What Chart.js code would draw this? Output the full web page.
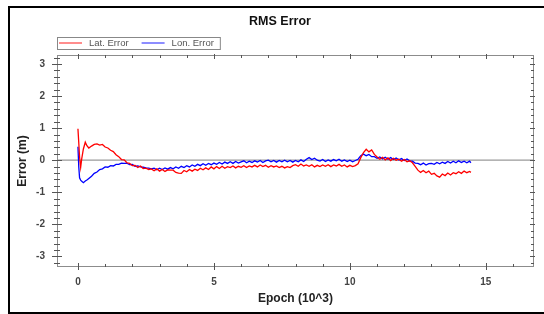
<!DOCTYPE html>
<html>
<head>
<meta charset="utf-8">
<script src="https://cdn.jsdelivr.net/npm/chart.js@4.4.0/dist/chart.umd.min.js"></script>
<style>
	html, body { margin: 0; padding: 0; background: #fff; }
	#wrap { position: relative; width: 544px; height: 314px; overflow: hidden; }
	#frame { position: absolute; left: 8px; top: 6px; width: 600px; height: 304px; border: 2px solid #000; border-right: none; pointer-events: none; }
	canvas { position: absolute; left: 0; top: 0; }
</style>
</head>
<body>
<div id="wrap">
	<canvas id="chart" width="544" height="314"></canvas>
	<div id="frame"></div>
</div>
<script>
// epoch in thousands
const epochs = [
	0, 0.03, 0.06, 0.1, 0.14, 0.2, 0.27, 0.33, 0.4,
	0.5, 0.6, 0.7, 0.8, 0.9, 1.0, 1.1, 1.2, 1.3, 1.4,
	1.5, 1.6, 1.7, 1.8, 1.9, 2.0, 2.1, 2.2, 2.3, 2.4,
	2.5, 2.6, 2.7, 2.8, 2.9, 3.0, 3.1, 3.2, 3.3, 3.4,
	3.5, 3.6, 3.7, 3.8, 3.9, 4.0, 4.1, 4.2, 4.3, 4.4,
	4.5, 4.6, 4.7, 4.8, 4.9, 5.0, 5.1, 5.2, 5.3, 5.4,
	5.5, 5.6, 5.7, 5.8, 5.9, 6.0, 6.1, 6.2, 6.3, 6.4,
	6.5, 6.6, 6.7, 6.8, 6.9, 7.0, 7.1, 7.2, 7.3, 7.4,
	7.5, 7.6, 7.7, 7.8, 7.9, 8.0, 8.1, 8.2, 8.3, 8.4,
	8.5, 8.6, 8.7, 8.8, 8.9, 9.0, 9.1, 9.2, 9.3, 9.4,
	9.5, 9.6, 9.7, 9.8, 9.9, 10.0, 10.1, 10.2, 10.3, 10.4,
	10.5, 10.6, 10.7, 10.8, 10.9, 11.0, 11.1, 11.2, 11.3, 11.4,
	11.5, 11.6, 11.7, 11.8, 11.9, 12.0, 12.1, 12.2, 12.3, 12.4,
	12.5, 12.6, 12.7, 12.8, 12.9, 13.0, 13.1, 13.2, 13.3, 13.4,
	13.5, 13.6, 13.7, 13.8, 13.9, 14.0, 14.1, 14.2, 14.3, 14.4,
	14.45
];

const latError = [
	0.98, 0.55, 0.10, -0.22, 0.05, 0.35, 0.56, 0.45, 0.38,
	0.44, 0.49, 0.51, 0.47, 0.49, 0.41, 0.38, 0.31, 0.27, 0.17,
	0.11, 0.02, 0.01, -0.08, -0.10, -0.17, -0.16, -0.23, -0.18, -0.26,
	-0.25, -0.29, -0.27, -0.33, -0.27, -0.34, -0.29, -0.35, -0.30, -0.31,
	-0.31, -0.38, -0.40, -0.41, -0.32, -0.36, -0.29, -0.34, -0.28, -0.32,
	-0.25, -0.30, -0.24, -0.29, -0.21, -0.27, -0.20, -0.26, -0.19, -0.25,
	-0.20, -0.23, -0.18, -0.24, -0.19, -0.22, -0.17, -0.23, -0.18, -0.21,
	-0.16, -0.21, -0.15, -0.20, -0.16, -0.22, -0.17, -0.21, -0.18, -0.23,
	-0.19, -0.24, -0.20, -0.23, -0.17, -0.14, -0.19, -0.12, -0.18, -0.15,
	-0.19, -0.14, -0.21, -0.16, -0.20, -0.15, -0.19, -0.14, -0.20, -0.15,
	-0.18, -0.13, -0.19, -0.15, -0.21, -0.16, -0.20, -0.17, -0.11, 0.08,
	0.24, 0.34, 0.26, 0.32, 0.18, 0.10, 0.03, 0.09, 0.01, 0.07,
	-0.01, 0.06, 0.00, 0.03, -0.03, 0.02, -0.05, -0.02, -0.08, -0.19,
	-0.31, -0.38, -0.32, -0.39, -0.34, -0.44, -0.41, -0.49, -0.53, -0.43,
	-0.48, -0.40, -0.46, -0.39, -0.42, -0.36, -0.41, -0.34, -0.39, -0.35,
	-0.38
];

const lonError = [
	0.42, -0.20, -0.55, -0.62, -0.66, -0.70, -0.65, -0.62, -0.57,
	-0.50, -0.41, -0.37, -0.29, -0.27, -0.21, -0.22, -0.17, -0.18, -0.13,
	-0.13, -0.09, -0.10, -0.09, -0.14, -0.13, -0.19, -0.18, -0.21, -0.22,
	-0.24, -0.25, -0.27, -0.25, -0.30, -0.25, -0.29, -0.24, -0.28, -0.23,
	-0.27, -0.21, -0.25, -0.19, -0.23, -0.17, -0.21, -0.15, -0.19, -0.13,
	-0.17, -0.11, -0.16, -0.10, -0.14, -0.09, -0.13, -0.07, -0.12, -0.06,
	-0.10, -0.05, -0.10, -0.04, -0.09, -0.05, -0.02, -0.08, -0.03, -0.07,
	-0.02, -0.06, -0.01, -0.07, -0.02, 0.00, -0.05, -0.01, -0.06, -0.01,
	-0.05, 0.00, -0.05, -0.01, -0.06, -0.01, -0.05, 0.01, -0.04, 0.03,
	0.08, 0.02, 0.06, 0.00, -0.03, 0.02, -0.04, 0.01, -0.03, 0.02,
	-0.02, 0.03, -0.03, 0.01, -0.04, 0.00, -0.05, -0.01, 0.03, 0.14,
	0.19, 0.14, 0.18, 0.11, 0.11, 0.06, 0.10, 0.04, 0.09, 0.03,
	0.08, 0.02, 0.07, 0.01, 0.05, -0.01, 0.04, -0.02, -0.03, -0.09,
	-0.10, -0.14, -0.09, -0.15, -0.11, -0.10, -0.13, -0.07, -0.11, -0.06,
	-0.10, -0.04, -0.09, -0.03, -0.08, -0.02, -0.07, -0.03, -0.08, -0.03,
	-0.08
];

const seriesNames = ['Lat. Error', 'Lon. Error'];
const seriesColors = ['#ff0000', '#0000ff'];
const xTicks = [0, 5, 10, 15];
const yTicks = [-3, -2, -1, 0, 1, 2, 3];
const chartTitle = 'RMS Error';

const FONT = '"Liberation Sans", Arial, sans-serif';

function toPoints(values)
{
	return values.map((v, i) => ({x: epochs[i], y: v}));
}

// title, boxed legend, zero line and the little tick marks round the plot
const frameBits = {
	id: 'frameBits',
	beforeDatasetsDraw(chart) {
		const {ctx, chartArea: a, scales: {y}} = chart;
		const py = y.getPixelForValue(0);
		ctx.save();
		ctx.strokeStyle = '#9a9a9a';
		ctx.lineWidth = 1.3;
		ctx.beginPath();
		ctx.moveTo(a.left, py);
		ctx.lineTo(a.right, py);
		ctx.stroke();
		ctx.restore();
	},
	afterDraw(chart) {
		const {ctx, chartArea: a, scales: {x, y}} = chart;
		ctx.save();

		ctx.strokeStyle = '#8c8c8c';
		ctx.lineWidth = 1;
		ctx.strokeRect(a.left + 0.5, a.top + 0.5, a.width - 1, a.height - 1);

		ctx.strokeStyle = '#555';
		ctx.beginPath();
		for (let v = Math.ceil(x.min); v <= x.max; v++)
		{
			const px = Math.round(x.getPixelForValue(v)) + 0.5;
			const major = v % 5 === 0;
			ctx.moveTo(px, a.bottom + (major ? 3 : 0));
			ctx.lineTo(px, a.bottom - (major ? 4 : 3));
			ctx.moveTo(px, a.top - (major ? 1 : 0));
			ctx.lineTo(px, a.top + (major ? 4 : 3));
		}
		for (let i = Math.ceil(y.min * 5); i <= y.max * 5; i++)
		{
			const py = Math.round(y.getPixelForValue(i / 5)) + 0.5;
			const major = i % 5 === 0;
			ctx.moveTo(a.left - (major ? 5 : 3), py);
			ctx.lineTo(a.left + (major ? 5 : 3), py);
			ctx.moveTo(a.right - (major ? 4 : 3), py);
			ctx.lineTo(a.right + (major ? 1 : 0), py);
		}
		ctx.stroke();

		// title
		ctx.fillStyle = '#111';
		ctx.font = 'bold 12.5px ' + FONT;
		ctx.textAlign = 'center';
		ctx.textBaseline = 'middle';
		ctx.fillText(chartTitle, 280, 21.5);

		// legend box
		ctx.font = '9.5px ' + FONT;
		ctx.textAlign = 'left';
		let cx = a.left + 2;
		const ly = 43;
		chart.data.datasets.forEach((ds, i) => {
			ctx.strokeStyle = seriesColors[i];
			ctx.globalAlpha = 0.75;
			ctx.lineWidth = 1.2;
			ctx.beginPath();
			ctx.moveTo(cx, ly);
			ctx.lineTo(cx + 23, ly);
			ctx.stroke();
			ctx.globalAlpha = 1;
			cx += 30;
			ctx.fillStyle = '#555';
			ctx.fillText(ds.label, cx, ly + 0.5);
			cx += ctx.measureText(ds.label).width + 13;
		});
		ctx.strokeStyle = '#888';
		ctx.lineWidth = 1;
		ctx.strokeRect(a.left + 0.5, 37.5, cx - 7 - a.left, 12);

		ctx.restore();
	}
};

new Chart(document.getElementById('chart'), {
	type: 'line',
	data: {
		datasets: [
			{
				label: seriesNames[0],
				data: toPoints(latError),
				borderColor: seriesColors[0],
				borderWidth: 1.3,
				pointRadius: 0,
				tension: 0
			},
			{
				label: seriesNames[1],
				data: toPoints(lonError),
				borderColor: seriesColors[1],
				borderWidth: 1.3,
				pointRadius: 0,
				tension: 0
			}
		]
	},
	options: {
		responsive: false,
		animation: false,
		layout: {
			padding: {top: 55, right: 10, left: 0, bottom: 0}
		},
		plugins: {
			legend: {display: false},
			title: {display: false},
			tooltip: {enabled: false}
		},
		scales: {
			x: {
				type: 'linear',
				min: -0.77,
				max: 16.77,
				afterBuildTicks: (scale) => {
					scale.ticks = xTicks.map(v => ({value: v}));
				},
				afterFit: (scale) => {
					scale.height = 47;
				},
				grid: {display: false, drawTicks: false},
				border: {display: false},
				ticks: {
					padding: 9,
					color: '#444',
					font: {family: FONT, size: 10, weight: 'bold'}
				},
				title: {
					display: true,
					text: 'Epoch (10^3)',
					color: '#222',
					padding: {top: 4, bottom: 8.5},
					font: {family: FONT, size: 12, weight: 'bold'}
				}
			},
			y: {
				min: -3.33,
				max: 3.28,
				afterBuildTicks: (scale) => {
					scale.ticks = yTicks.map(v => ({value: v}));
				},
				afterFit: (scale) => {
					scale.width = 57;
				},
				grid: {display: false, drawTicks: false},
				border: {display: false},
				ticks: {
					padding: 12,
					color: '#444',
					font: {family: FONT, size: 10, weight: 'bold'}
				},
				title: {
					display: true,
					text: 'Error (m)',
					color: '#222',
					padding: {top: 15, bottom: 4},
					font: {family: FONT, size: 12, weight: 'bold'}
				}
			}
		}
	},
	plugins: [frameBits]
});
</script>
</body>
</html>
